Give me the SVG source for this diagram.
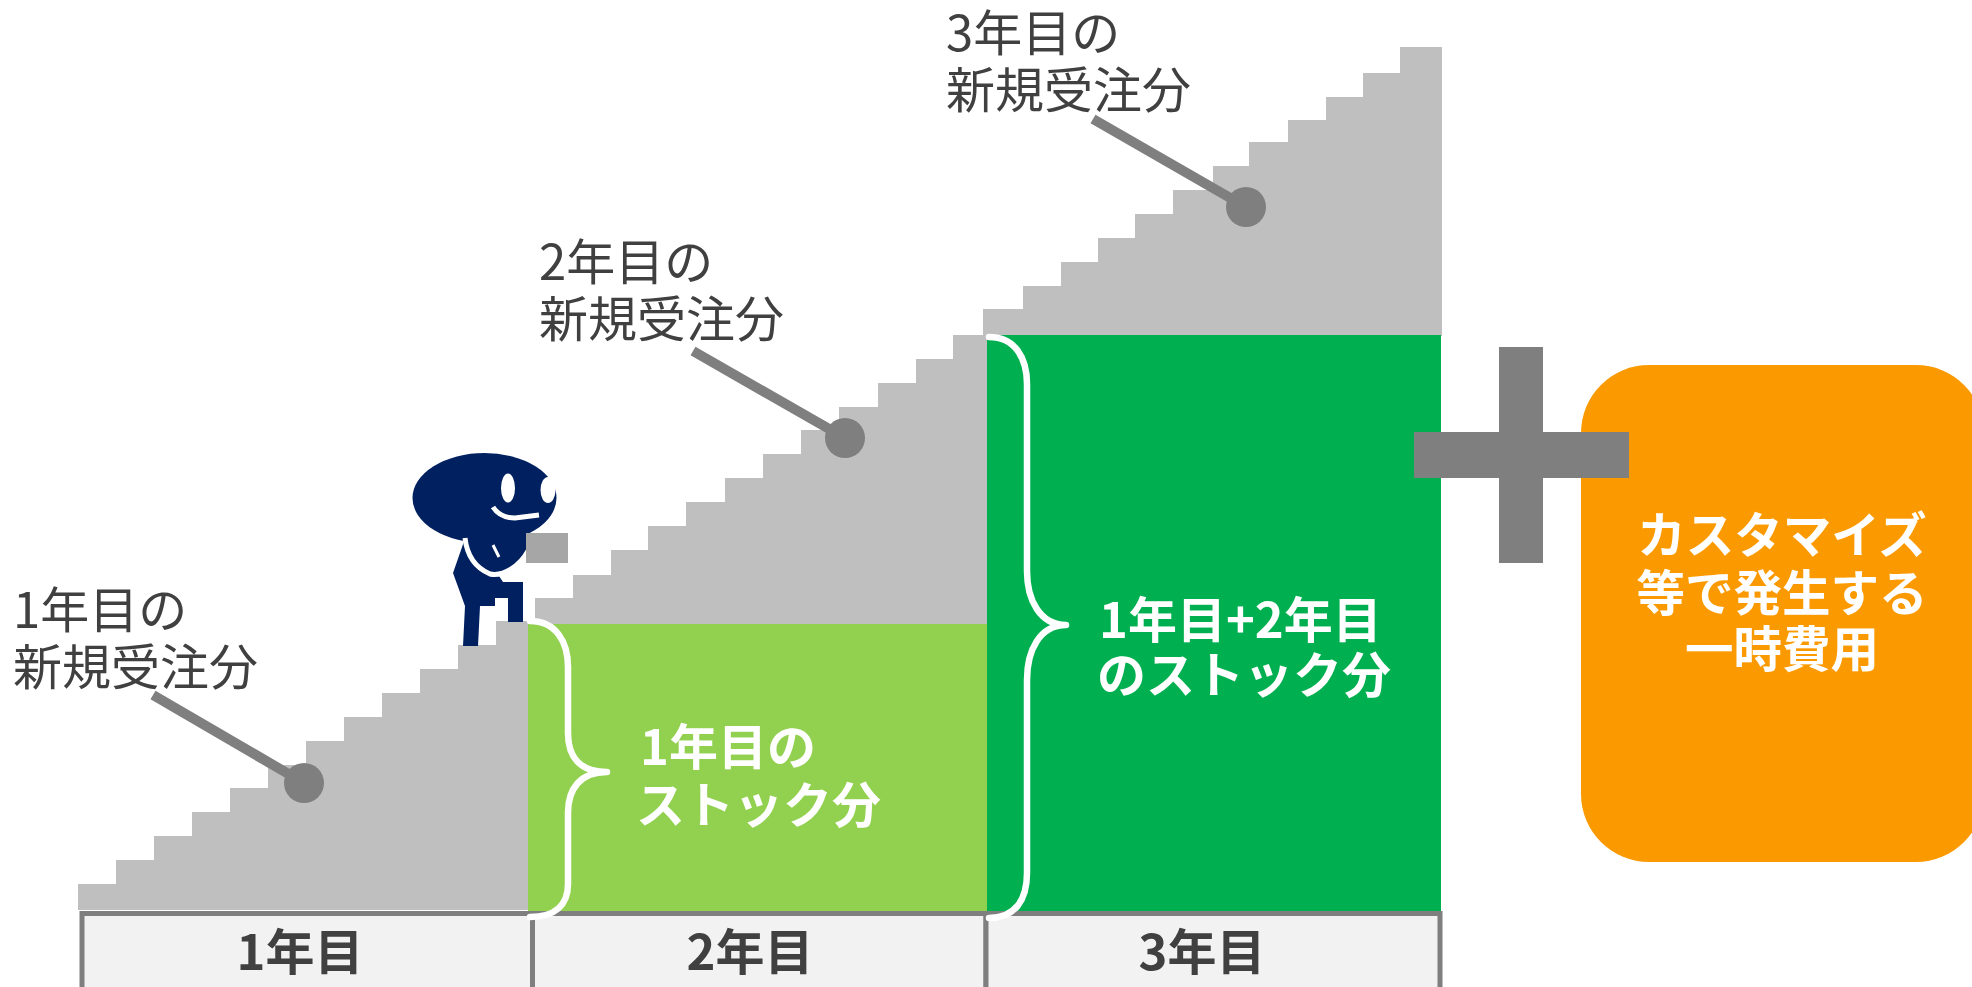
<svg xmlns="http://www.w3.org/2000/svg" width="1972" height="987" viewBox="0 0 1972 987">
  <style>
    .stair { fill: #BFBFBF; }
    .label { font-family: "Noto Sans CJK JP", "Noto Sans", sans-serif; font-size: 49px; fill: #404040; }
    .white-bold { font-family: "Noto Sans CJK JP", "Noto Sans", sans-serif; font-size: 49px; font-weight: 700; fill: #FFFFFF; }
    .cost { font-family: "Noto Sans CJK JP", "Noto Sans", sans-serif; font-size: 48.5px; font-weight: 700; fill: #FFFFFF; text-anchor: middle; }
    .year { font-family: "Noto Sans CJK JP", "Noto Sans", sans-serif; font-size: 49px; font-weight: 700; fill: #404040; text-anchor: middle; }
    .year-box { fill: #F2F2F2; stroke: #7F7F7F; stroke-width: 5; }
    .brace { fill: none; stroke: #FFFFFF; stroke-width: 6.5; stroke-linecap: round; stroke-linejoin: round; }
    .callout { stroke: #7F7F7F; stroke-width: 10; stroke-linecap: butt; }
    .dot { fill: #7F7F7F; }
    .navy { fill: #002060; }
  </style>
  <rect width="1972" height="987" fill="#FFFFFF"/>

  <!-- staircases: one flight per year -->
  <g id="stairs-year1">
    <path class="stair" d="M78,910 V884 H116 V860 H154 V836 H192 V812 H230 V788 H268 V765 H306 V741 H344 V717 H382 V693 H420 V669 H458 V645 H496 V621 H528 V910 Z"/>
  </g>
  <g id="stairs-year2">
    <path class="stair" d="M535,624 V598 H573 V575 H611 V550 H648 V526 H686 V502 H725 V478 H763 V454 H801 V430 H839 V407 H878 V383 H916 V359 H953 V335 H987 V624 Z"/>
  </g>
  <g id="stairs-year3">
    <path class="stair" d="M983,336 V309 H1023 V286 H1061 V262 H1098 V238 H1135 V214 H1173 V190 H1213 V166 H1249 V142 H1288 V120 H1326 V97 H1363 V73 H1400 V47 H1442 V336 Z"/>
  </g>

  <!-- accumulated stock blocks -->
  <g id="stock-year2">
    <rect x="528" y="624" width="459" height="288" fill="#92D050"/>
  </g>
  <g id="stock-year3">
    <rect x="987" y="335" width="454" height="577" fill="#00B050"/>
  </g>

  <!-- year axis -->
  <g id="year1">
    <rect class="year-box" x="82" y="913.5" width="450.5" height="90"/>
    <text class="year" x="300" y="970">1年目</text>
  </g>
  <g id="year2">
    <rect class="year-box" x="532.5" y="913.5" width="453.5" height="90"/>
    <text class="year" x="750" y="970">2年目</text>
  </g>
  <g id="year3">
    <rect class="year-box" x="986" y="913.5" width="454" height="90"/>
    <text class="year" x="1202" y="970">3年目</text>
  </g>

  <!-- braces and stock labels -->
  <g id="stock-label-year2">
    <path class="brace" d="M530,621 C556,621 568,642 568,667 V733 C568,757 580,772 607,772 C580,772 568,789 568,813 V884 C568,905 555,917 530,917"/>
    <text class="white-bold"><tspan x="640" y="765">1年目の</tspan><tspan x="636" y="823">ストック分</tspan></text>
  </g>
  <g id="stock-label-year3">
    <path class="brace" d="M989,337 C1015,337 1027,358 1027,384 V571 C1027,600 1040,625 1066,625 C1040,625 1027,650 1027,680 V873 C1027,900 1015,918 989,918"/>
    <text class="white-bold"><tspan x="1099" y="638">1年目+2年目</tspan><tspan x="1097" y="693">のストック分</tspan></text>
  </g>

  <!-- one-off cost block -->
  <g id="one-time-cost">
    <rect x="1581" y="365" width="403" height="497" rx="68" ry="68" fill="#FB9A00"/>
    <text class="cost"><tspan x="1782" y="553">カスタマイズ</tspan><tspan x="1782" y="611">等で発生する</tspan><tspan x="1782" y="667">一時費用</tspan></text>
  </g>
  <g id="plus-sign">
    <rect x="1499" y="347" width="44" height="216" fill="#7F7F7F"/>
    <rect x="1414" y="432" width="215" height="46" fill="#7F7F7F"/>
  </g>

  <!-- climber figure -->
  <g id="climber">
    <path class="navy" d="M468,530 L453,573 L465,606 L463,646 L478,646 L480,606 L495,606 L495,598 L508,598 L508,622 L523,622 L523,582 L503,582 L499,576 L515,568 L528,555 L528,533 Z"/>
    <ellipse class="navy" cx="484.5" cy="498" rx="72" ry="45"/>
    <ellipse cx="508" cy="488" rx="7" ry="14.5" fill="#FFFFFF"/>
    <ellipse cx="548" cy="490" rx="7.5" ry="13" fill="#FFFFFF"/>
    <path d="M493,507 Q500,518 515,518 L539,515" fill="none" stroke="#FFFFFF" stroke-width="5"/>
    <path d="M465,538 C467,556 476,568 490,574 C503,577 520,566 528,551" fill="none" stroke="#FFFFFF" stroke-width="5"/>
    <path d="M493,545 L499,557" fill="none" stroke="#FFFFFF" stroke-width="3"/>
    <rect x="526" y="533" width="42" height="30" fill="#A6A6A6"/>
  </g>

  <!-- new-order labels -->
  <g id="new-orders-year1">
    <text class="label"><tspan x="13" y="628">1年目の</tspan><tspan x="13" y="685">新規受注分</tspan></text>
  </g>
  <g id="new-orders-year2">
    <text class="label"><tspan x="539" y="280">2年目の</tspan><tspan x="539" y="337">新規受注分</tspan></text>
  </g>
  <g id="new-orders-year3">
    <text class="label"><tspan x="946" y="51">3年目の</tspan><tspan x="946" y="108">新規受注分</tspan></text>
  </g>

  <!-- callout leaders from labels to each flight -->
  <g id="connectors">
    <line class="callout" x1="153" y1="695" x2="304" y2="783"/>
    <circle class="dot" cx="304" cy="783" r="20"/>
    <line class="callout" x1="693" y1="351" x2="845" y2="438"/>
    <circle class="dot" cx="845" cy="438" r="20"/>
    <line class="callout" x1="1093" y1="119" x2="1246" y2="207"/>
    <circle class="dot" cx="1246" cy="207" r="20"/>
  </g>
</svg>
